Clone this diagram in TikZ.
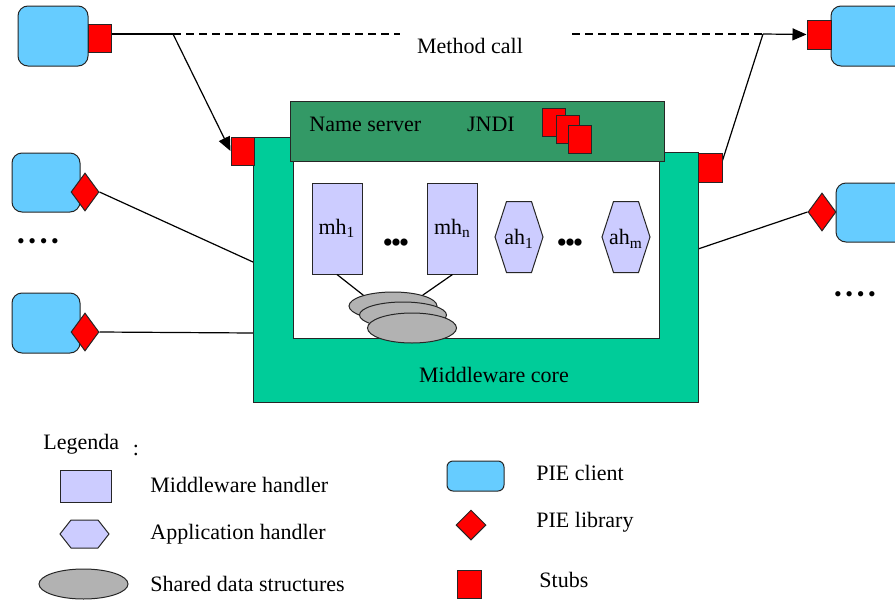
\documentclass[tikz,border=0pt]{standalone}
\usepackage{fontspec}
\setmainfont{Liberation Serif}
\usetikzlibrary{arrows.meta,shapes.geometric,backgrounds}

\definecolor{clientblue}{HTML}{66CCFF}
\definecolor{coregreen}{HTML}{00CC99}
\definecolor{nsgreen}{HTML}{339966}
\definecolor{handlerblue}{HTML}{CCCCFF}
\definecolor{datagray}{HTML}{B2B2B2}

% hexagon of an application handler: centre, half width, half top edge, half height
\newcommand{\handlerhex}[4]{%
  \draw[hexbox] (#1) +(-#2,0) -- +(-#3,-#4) -- +(#3,-#4) -- +(#2,0)
    -- +(#3,#4) -- +(-#3,#4) -- cycle;}
% big dots between the handlers
\newcommand{\bigdots}{\fontsize{15}{15}\selectfont
  \textbullet\kern-1.2pt\textbullet\kern-1.2pt\textbullet}

\begin{document}
\begin{tikzpicture}[
  x=0.5pt, y=-0.5pt,
  font=\fontsize{11}{13}\selectfont,
  outl/.style={draw=black!85, line width=0.5pt},
  client/.style={outl, fill=clientblue, rounded corners=5pt, inner sep=0pt,
                 minimum width=34pt, minimum height=29.5pt},
  stub/.style={outl, fill=red, inner sep=0pt, minimum width=11.5pt, minimum height=14pt},
  lib/.style={diamond, outl, fill=red, inner sep=0pt, minimum width=14pt, minimum height=19pt},
  mhbox/.style={outl, fill=handlerblue, inner sep=0pt, minimum width=25pt, minimum height=45.5pt},
  hexbox/.style={outl, fill=handlerblue},
  data/.style={ellipse, outl, fill=datagray, inner sep=0pt, minimum width=44pt, minimum height=14pt},
  txt/.style={anchor=west, inner sep=0pt},
  link/.style={line width=0.6pt},
  call/.style={link, -{Triangle[length=7pt, width=6pt]}},
  dots/.style={inner sep=0pt}
]
\clip (0,0) rectangle (895,600);

% middleware core with the name server on top
\draw[outl, fill=coregreen] (253,137) -- (480,137) -- (480,152) -- (698,152)
  -- (698,402) -- (253,402) -- cycle;
\draw[outl, fill=white] (293,161) rectangle (659,338);
\node[outl, fill=nsgreen, inner sep=0pt, minimum width=187pt, minimum height=30pt] (ns) at (477,131) {};
\node[txt] (nsname) at (309,124) {Name server};
\node (jndi) at (491,124) {JNDI};
\node[stub] (ns1) at (553.5,122) {};
\node[stub] (ns2) at (567.5,129.5) {};
\node[stub] (ns3) at (580,139) {};
\node (core) at (494,375) {Middleware core};
\node[stub] (sL) at (242.5,151) {};
\node[stub, minimum width=12pt, minimum height=14.5pt] (sR) at (710,167.5) {};

% handlers and shared data
\node[mhbox] (mh1) at (337,228.5) {mh\textsubscript{1}};
\node[mhbox] (mhn) at (452.5,228.5) {mh\textsubscript{n}};
\node[dots] (d1) at (396,246) {\bigdots};
\handlerhex{519,237}{24}{12.5}{35.5}
\node (ah1) at (519,239) {ah\textsubscript{1}};
\node[dots] (d2) at (570,246) {\bigdots};
\handlerhex{626,237}{24}{12.5}{35.5}
\node (ahm) at (626,239) {ah\textsubscript{m}};
\node[data] (sd1) at (393,306) {};
\node[data, minimum width=43.5pt, minimum height=13pt] (sd2) at (403,315) {};
\node[data, minimum width=44.5pt, minimum height=15pt] (sd3) at (412,328) {};
\draw[link] (mh1.south) -- (sd1.160);
\draw[link] (mhn.south) -- (sd1.20);

% PIE clients, left
\node[client, minimum width=35pt, minimum height=30pt] (c1) at (53,36) {};
\node[stub] (s1) at (99.5,38.5) {};
\node[client] (c2) at (46,182.5) {};
\node[lib] (dl1) at (85,192) {};
\node[dots] (d3) at (38,244) {\textbullet\,\textbullet\,\textbullet\,\textbullet};
\node[client, minimum height=30pt] (c3) at (46,323) {};
\node[lib] (dl2) at (85,332) {};

% PIE clients, right
\node[client, minimum width=40pt, minimum height=30pt] (cr1) at (871,36) {};
\node[stub, minimum width=12pt, minimum height=14.5pt] (sr1) at (819,34.5) {};
\node[client, minimum width=40pt] (cr2) at (876,212.5) {};
\node[lib] (dr1) at (822,212) {};
\node[dots] (d4) at (855,297) {\textbullet\,\textbullet\,\textbullet\,\textbullet};

% method call
\node (mcall) at (470,46) {Method call};
\coordinate (jl) at (173,34);
\coordinate (dl) at (400,34);
\coordinate (dr) at (572,34);
\coordinate (jr) at (763,34);
\coordinate (pl1) at (253,262);
\coordinate (pl2) at (253,333);
\coordinate (pr1) at (698,249);

\begin{scope}[on background layer]
\draw[link] (s1.east |- jl) -- (jl);
\draw[link, dash pattern=on 4pt off 2.5pt] (jl) -- (dl);
\draw[call] (jl) -- (sL.west);
\draw[link, dash pattern=on 4pt off 2.5pt] (dr) -- (jr);
\draw[link] (jr) -- ([yshift=3.5pt]sR.east);
\draw[call] (jr) -- (sr1.west);
\draw[link] (dl1.east) -- (pl1);
\draw[link] (dl2.east) -- (pl2);
\draw[link] (dr1.west) -- (pr1);
\end{scope}

% legend
\node[txt] (leg) at (43,444) {Legenda};
\node (colon) at (136,450) {:};
\node[mhbox, minimum width=25.5pt, minimum height=16pt] (lmh) at (85.5,486) {};
\node[txt] at (150,485) {Middleware handler};
\handlerhex{84.5,534}{24.5}{13.5}{14}
\node[txt] at (150,534) {Application handler};
\node[data, minimum width=44.5pt, minimum height=15pt] (lsd) at (83.5,584) {};
\node[txt] at (150,584) {Shared data structures};
\node[client, rounded corners=3pt, minimum width=28.5pt, minimum height=15pt] (lpc) at (475.5,476) {};
\node[txt] at (536,473) {PIE client};
\node[lib, minimum width=15pt, minimum height=15pt] (lpl) at (471,525) {};
\node[txt] at (536,522) {PIE library};
\node[stub, minimum width=12pt] (lst) at (469,584) {};
\node[txt] at (539,580) {Stubs};
\end{tikzpicture}
\end{document}
